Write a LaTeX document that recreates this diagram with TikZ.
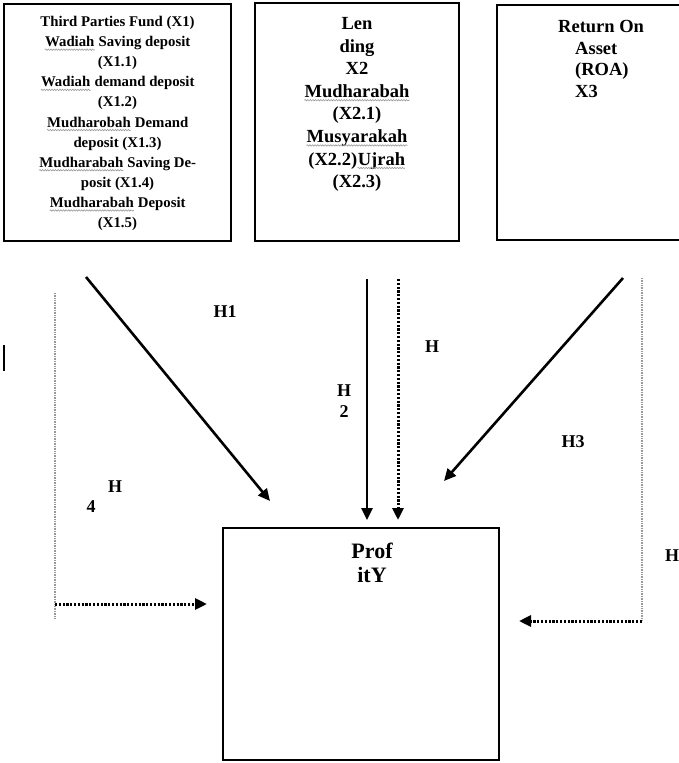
\documentclass[tikz,border=0pt]{standalone}
\usepackage{fontspec}
\setmainfont{Liberation Serif}
\usetikzlibrary{arrows.meta,positioning,decorations.pathmorphing}
% grey wavy underline (spell-check marks)
\newcommand\spell[1]{\tikz[baseline=(w.base)]{\node[inner sep=0pt] (w) {#1};
  \draw[gray!80, line width=0.6pt, decorate, decoration={snake, amplitude=0.7pt, segment length=2.6pt}]
    ([yshift=-3pt]w.base west) -- ([yshift=-3pt]w.base east);}}

\begin{document}
\begin{tikzpicture}[x=1pt, y=-1pt,
    box/.style={draw, line width=1.8pt, rectangle, inner sep=0pt},
    boxtext/.style={align=center, font=\bfseries, inner sep=0pt},
    hlabel/.style={align=center, inner sep=0pt, font=\bfseries\fontsize{18}{21}\selectfont},
    solidarrow/.style={line width=2.6pt, -{Triangle[length=12pt,width=11pt]}},
    dotarrow/.style={line width=3pt, dash pattern=on 2.2pt off 1.6pt, -{Triangle[length=12pt,width=11pt]}},
    guide/.style={line width=2pt, gray!80, dash pattern=on 1pt off 0.7pt}]
    \useasboundingbox (0,0) rectangle (679,763);
    \clip (0,0) rectangle (679,763);

    % Top row: independent variables
    \node[box, minimum width=227pt, minimum height=237pt] (fund) at (117.5,122.5) {};
    \node[boxtext, font=\bfseries\fontsize{14.8}{20.1}\selectfont, below=13pt of fund.north] (fundtext) {
      Third Parties Fund (X1)\\
      \spell{Wadiah} Saving deposit\\
      (X1.1)\\
      \spell{Wadiah} demand deposit\\
      (X1.2)\\
      \spell{Mudharobah} Demand\\
      deposit (X1.3)\\
      \spell{Mudharabah} Saving De-\\
      posit (X1.4)\\
      \spell{Mudharabah} Deposit\\
      (X1.5)};

    \node[box, minimum width=204pt, minimum height=238pt] (lending) at (357,122) {};
    \node[boxtext, font=\bfseries\fontsize{18.5}{22.6}\selectfont, below=15pt of lending.north] (lendingtext) {
      Len\\
      ding\\
      X2\\
      \spell{Mudharabah}\\
      (X2.1)\\
      \spell{Musyarakah}\\
      (X2.2)\spell{Ujrah}\\
      (X2.3)};

    \node[box, minimum width=210pt, minimum height=235pt] (roa) at (602,122.5) {};
    \node[boxtext, align=left, anchor=north west, font=\bfseries\fontsize{18.5}{21.7}\selectfont] (roatext) at (558,20) {
      Return On\\
      \hspace*{17pt}Asset\\
      \hspace*{17pt}(ROA)\\
      \hspace*{17pt}X3};

    % Dependent variable
    \node[box, minimum width=276pt, minimum height=232pt] (profit) at (361,644) {};
    \node[boxtext, anchor=north, font=\bfseries\fontsize{22}{24}\selectfont] (profittext) at (372,543) {Prof\\itY};

    % Arrow end points
    \coordinate (h1s) at (86,277);   \coordinate (h1e) at (270,501);
    \coordinate (h2s) at (367,279);  \coordinate (h2e) at (367,520);
    \coordinate (d2s) at (398,279);  \coordinate (d2e) at (398,520);
    \coordinate (h3s) at (623,278);  \coordinate (h3e) at (444,481);
    \coordinate (l4t) at (55,293);   \coordinate (l4b) at (55,618);
    \coordinate (l4c) at (55,604);   \coordinate (l4e) at (207,604);
    \coordinate (r5t) at (642,278);  \coordinate (r5c) at (642,621);
    \coordinate (r5e) at (519,621);

    % Hypothesis arrows
    \draw[solidarrow] (h1s) -- (h1e);
    \draw[solidarrow] (h2s) -- (h2e);
    \draw[dotarrow] (d2s) -- (d2e);
    \draw[solidarrow] (h3s) -- (h3e);

    % Simultaneous paths (left and right)
    \draw[guide] (l4t) -- (l4b);
    \draw[dotarrow] (l4c) -- (l4e);
    \draw[guide] (r5t) -- (r5c);
    \draw[dotarrow] (r5c) -- (r5e);

    % Labels
    \node[hlabel] (h1) at (225,312) {H1};
    \node[hlabel] (h2) at (344,401) {H\\2};
    \node[hlabel] (h2d) at (432,347) {H};
    \node[hlabel] (h3) at (573,442) {H3};
    \node[hlabel] (h4) at (115,487) {H};
    \node[hlabel] (h4n) at (91,507) {4};
    \node[hlabel] (h5) at (672,556) {H};

    % stray mark
    \draw[line width=1.5pt] (4,345) -- (4,371);
\end{tikzpicture}
\end{document}
